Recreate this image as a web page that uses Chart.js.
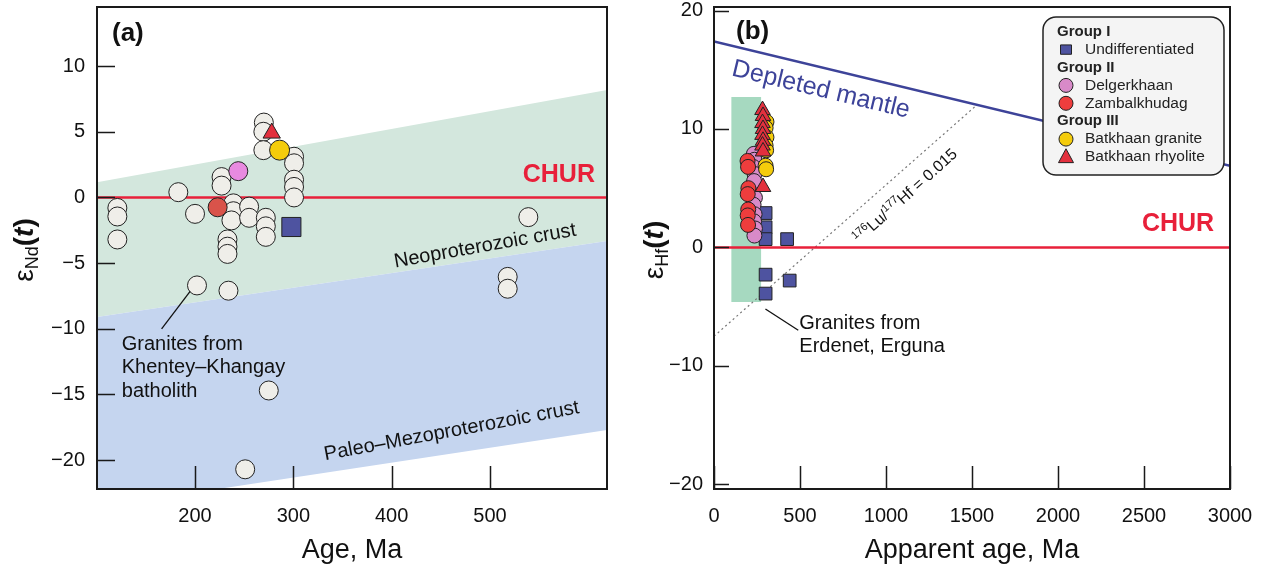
<!DOCTYPE html>
<html>
<head>
<meta charset="utf-8">
<script src="https://cdn.jsdelivr.net/npm/chart.js@4.4.1/dist/chart.umd.min.js"></script>
<style>
  html, body { margin: 0; padding: 0; background: #fff; }
  #wrap { position: relative; width: 1267px; height: 578px; }
  #chartA { position: absolute; left: 0; top: 0; }
  #chartB { position: absolute; left: 630px; top: 0; }
</style>
</head>
<body>
<div id="wrap">
  <canvas id="chartA" width="630" height="578"></canvas>
  <canvas id="chartB" width="637" height="578"></canvas>
</div>
<script>
const FF = "'Liberation Sans', Arial, sans-serif";
Chart.defaults.font.family = FF;
Chart.defaults.color = '#111';

// ---- panel (a): eNd(t) vs age ----
const ageTicksA = [200, 300, 400, 500];
const epsNdTicks = [-20, -15, -10, -5, 0, 5, 10];

// granites from Khentey-Khangay batholith
const ageKK = [270, 269.5, 269.5, 300.7, 300.7, 227, 227, 183, 300.7, 300.7, 300.7,
  121, 121, 121, 200, 239, 239, 237, 255, 255, 272, 272, 272, 233, 233, 233,
  202, 234, 518, 518, 275, 251, 539];
const epsKK = [5.7, 5.0, 3.6, 3.1, 2.6, 1.55, 0.9, 0.4, 1.35, 0.8, 0.0,
  -0.8, -1.45, -3.2, -1.25, -0.45, -1.05, -1.75, -0.7, -1.55, -1.55, -2.2, -3.0, -3.2, -3.75, -4.3,
  -6.7, -7.1, -6.05, -6.95, -14.7, -20.7, -1.5];
const ageDelgerA = [244], epsDelgerA = [2.0];
const ageZambA = [223], epsZambA = [-0.75];
const ageBatGA = [286], epsBatGA = [3.6];
const ageBatRA = [278], epsBatRA = [4.9];
const ageUndiffA = [298], epsUndiffA = [-2.25];

// crust evolution fields (eNd at the two ends of the age range)
const bandAges = [100, 620];
const neoTop = [1.15, 8.2];
const neoBottom = [-9.1, -3.3];
const paleoBottom = [-23.6, -17.7];

// ---- panel (b): eHf(t) vs apparent age ----
const ageTicksB = [0, 500, 1000, 1500, 2000, 2500, 3000];
const epsHfTicks = [-20, -10, 0, 10, 20];

const ageUndiff = [300, 300, 300, 425, 300, 440, 300];
const epsUndiff = [2.9, 1.7, 0.7, 0.7, -2.3, -2.8, -3.9];
const ageDelger = [232, 235, 228, 236, 233, 238, 230, 236, 233, 238, 235];
const epsDelger = [7.9, 7.4, 6.8, 6.2, 5.6, 4.2, 3.6, 2.8, 2.2, 1.6, 1.0];
const ageZamb = [195, 198, 200, 196, 199, 196, 198];
const epsZamb = [7.3, 6.8, 5.0, 4.5, 3.2, 2.7, 1.9];
const ageBatG = [305, 300, 305, 300, 303, 300, 303];
const epsBatG = [10.6, 10.1, 9.3, 8.6, 8.2, 6.9, 6.6];
const ageBatR = [282, 285, 282, 285, 282, 285, 282, 285, 285];
const epsBatR = [11.6, 11.1, 10.5, 10.0, 9.5, 9.0, 8.6, 8.1, 5.1];

const dmAges = [0, 3000], dmEps = [17.4, 6.9];
const luHfAges = [0, 1530], luHfEps = [-7.5, 12.05];
const erdenetAges = [100, 275], erdenetEps = [12.7, -4.6];

const groupNames = ['Group I', 'Group II', 'Group III'];
const seriesNames = ['Undifferentiated', 'Delgerkhaan', 'Zambalkhudag', 'Batkhaan granite', 'Batkhaan rhyolite'];

const pts = (xs, ys) => xs.map((x, i) => ({x: x, y: ys[i]}));
const fmt = v => v < 0 ? '\u2212' + Math.abs(v) : '' + v;

const C = {
  red: '#e8203a', dm: '#3d4399', sq: '#4e53a0', pinkA: '#e88ae0', pinkB: '#d88ac8',
  zambA: '#d9534a', zambB: '#ee3d3d', yellow: '#f4cc0c', tri: '#e3303e', white: '#efeee9'
};

function richText(ctx, parts, x, y, angle, align, color) {
  ctx.save();
  ctx.translate(x, y);
  ctx.rotate(angle * Math.PI / 180);
  ctx.fillStyle = color;
  ctx.textBaseline = 'middle';
  ctx.textAlign = 'left';
  let w = 0;
  parts.forEach(p => { ctx.font = p.font; p.w = ctx.measureText(p.t).width; w += p.w; });
  let cx = align === 'center' ? -w / 2 : 0;
  parts.forEach(p => { ctx.font = p.font; ctx.fillText(p.t, cx, p.dy || 0); cx += p.w; });
  ctx.restore();
}

function inwardFrame(xTicks, yTicks, xLen, yLen) {
  return {
    id: 'inwardFrame',
    afterDatasetsDraw(chart) {
      const {ctx, chartArea: a, scales: {x, y}} = chart;
      ctx.save();
      ctx.strokeStyle = '#1a1a1a';
      ctx.lineWidth = 1.5;
      ctx.beginPath();
      xTicks.forEach(v => {
        const px = Math.round(x.getPixelForValue(v)) + 0.5;
        ctx.moveTo(px, a.bottom); ctx.lineTo(px, a.bottom - xLen);
      });
      yTicks.forEach(v => {
        const py = Math.round(y.getPixelForValue(v)) + 0.5;
        ctx.moveTo(a.left, py); ctx.lineTo(a.left + yLen, py);
      });
      ctx.stroke();
      ctx.lineWidth = 2;
      ctx.strokeRect(a.left, a.top, a.right - a.left, a.bottom - a.top);
      ctx.restore();
    }
  };
}

function scalesFor(o) {
  return {
    x: {
      type: 'linear', min: o.xMin, max: o.xMax,
      afterBuildTicks: s => { s.ticks = o.xTicks.map(v => ({value: v})); },
      afterFit: s => { s.height = 89; s.paddingLeft = 0; s.paddingRight = 0; },
      grid: {display: false, drawTicks: false},
      border: {display: false},
      ticks: {font: {size: 20}, color: '#111', padding: 15, maxRotation: 0, autoSkip: false, callback: fmt},
      title: {display: true, text: o.xTitle, font: {size: 27}, color: '#111', padding: {top: 0, bottom: 11}}
    },
    y: {
      type: 'linear', min: o.yMin, max: o.yMax,
      afterBuildTicks: s => { s.ticks = o.yTicks.map(v => ({value: v})); },
      afterFit: s => { s.width = o.yWidth; s.paddingTop = 0; s.paddingBottom = 0; },
      grid: {display: false, drawTicks: false},
      border: {display: false},
      ticks: {font: {size: 20}, color: '#111', padding: o.yPad, autoSkip: false, callback: fmt}
    }
  };
}

function baseOptions(o) {
  return {
    responsive: false,
    devicePixelRatio: 1,
    animation: false,
    events: [],
    layout: {autoPadding: false, padding: {left: 0, top: 7, right: o.right, bottom: 0}},
    plugins: {legend: {display: false}, tooltip: {enabled: false}},
    scales: scalesFor(o)
  };
}

function lineDs(xs, ys, extra) {
  return Object.assign({type: 'line', data: pts(xs, ys), pointRadius: 0, borderWidth: 0, fill: false, tension: 0}, extra);
}
function markDs(xs, ys, extra) {
  return Object.assign({data: pts(xs, ys), borderColor: '#222', borderWidth: 1}, extra);
}

// ---------- chart (a) ----------
const annotA = {
  id: 'annotA',
  afterDatasetsDraw(chart) {
    const {ctx, chartArea: a, scales: {x, y}} = chart;
    const P = (ax, ey) => [x.getPixelForValue(ax), y.getPixelForValue(ey)];
    richText(ctx, [{t: '(a)', font: `bold 26px ${FF}`}], a.left + 15, a.top + 27, 0, 'left', '#111');
    let p = P(570, 1.73);
    richText(ctx, [{t: 'CHUR', font: `bold 25px ${FF}`}], p[0], p[1], 0, 'center', C.red);
    p = P(495, -3.7);
    richText(ctx, [{t: 'Neoproterozoic crust', font: `20px ${FF}`}], p[0], p[1], -10, 'center', '#111');
    p = P(461, -17.8);
    richText(ctx, [{t: 'Paleo\u2013Mezoproterozoic crust', font: `20px ${FF}`}], p[0], p[1], -10.5, 'center', '#111');
    ['Granites from', 'Khentey\u2013Khangay', 'batholith'].forEach((t, i) => {
      const q = P(125.5, -11.2 - i * 1.78);
      richText(ctx, [{t: t, font: `20px ${FF}`}], q[0], q[1], 0, 'left', '#111');
    });
    const l0 = P(166, -10.0), l1 = P(195, -7.15);
    ctx.save();
    ctx.strokeStyle = '#111'; ctx.lineWidth = 1.3;
    ctx.beginPath(); ctx.moveTo(l0[0], l0[1]); ctx.lineTo(l1[0], l1[1]); ctx.stroke();
    ctx.restore();
    richText(ctx, [
      {t: '\u03b5', font: `28px ${FF}`},
      {t: 'Nd', font: `18px ${FF}`, dy: 8},
      {t: '(', font: `bold 28px ${FF}`},
      {t: 't', font: `bold italic 28px ${FF}`},
      {t: ')', font: `bold 28px ${FF}`}
    ], 25, 250, -90, 'center', '#111');
  }
};

new Chart(document.getElementById('chartA'), {
  type: 'scatter',
  data: {
    datasets: [
      lineDs(bandAges, neoTop, {fill: '+1', backgroundColor: '#d3e7dd', order: 10}),
      lineDs(bandAges, neoBottom, {fill: '+1', backgroundColor: '#c5d5ef', order: 9}),
      lineDs(bandAges, paleoBottom, {order: 8}),
      lineDs(bandAges, [0, 0], {borderColor: C.red, borderWidth: 2.5, order: 7}),
      markDs(ageKK, epsKK, {backgroundColor: C.white, pointRadius: 9.5, order: 4}),
      markDs(ageDelgerA, epsDelgerA, {backgroundColor: C.pinkA, pointRadius: 9.5, order: 2}),
      markDs(ageZambA, epsZambA, {backgroundColor: C.zambA, pointRadius: 9.5, order: 2}),
      markDs(ageUndiffA, epsUndiffA, {backgroundColor: C.sq, pointStyle: 'rect', pointRadius: 13.5, order: 2}),
      markDs(ageBatGA, epsBatGA, {backgroundColor: C.yellow, pointRadius: 10, order: 1}),
      markDs(ageBatRA, epsBatRA, {backgroundColor: C.tri, pointStyle: 'triangle', pointRadius: 10, order: 0})
    ]
  },
  options: baseOptions({
    right: 23, xMin: 100.3, xMax: 619, yMin: -22.2, yMax: 14.5,
    xTicks: ageTicksA, yTicks: epsNdTicks, yWidth: 97, yPad: 12, xTitle: 'Age, Ma'
  }),
  plugins: [inwardFrame(ageTicksA, epsNdTicks, 23, 18), annotA]
});

// ---------- chart (b) ----------
function drawMarker(ctx, style, x, y, r, fill) {
  ctx.save();
  ctx.fillStyle = fill; ctx.strokeStyle = '#222'; ctx.lineWidth = 1;
  ctx.beginPath();
  if (style === 'rect') {
    ctx.rect(x - r, y - r * 0.85, 2 * r, 1.7 * r);
  } else if (style === 'triangle') {
    ctx.moveTo(x, y - r * 1.1);
    ctx.lineTo(x + r, y + r * 0.75);
    ctx.lineTo(x - r, y + r * 0.75);
    ctx.closePath();
  } else {
    ctx.arc(x, y, r, 0, Math.PI * 2);
  }
  ctx.fill(); ctx.stroke();
  ctx.restore();
}

const legendB = {
  id: 'legendB',
  afterDatasetsDraw(chart) {
    const ctx = chart.ctx;
    ctx.save();
    ctx.beginPath();
    ctx.roundRect(413, 17, 181, 158, 13);
    ctx.fillStyle = '#f4f4f4'; ctx.fill();
    ctx.strokeStyle = '#222'; ctx.lineWidth = 1.5; ctx.stroke();
    ctx.restore();
    const rows = [
      {g: groupNames[0]},
      {s: seriesNames[0], st: 'rect', c: C.sq, r: 5.5},
      {g: groupNames[1]},
      {s: seriesNames[1], st: 'circle', c: C.pinkB, r: 7},
      {s: seriesNames[2], st: 'circle', c: C.zambB, r: 7},
      {g: groupNames[2]},
      {s: seriesNames[3], st: 'circle', c: C.yellow, r: 7},
      {s: seriesNames[4], st: 'triangle', c: C.tri, r: 7.5}
    ];
    rows.forEach((row, i) => {
      const yy = 31.7 + i * 17.9;
      if (row.g) {
        richText(ctx, [{t: row.g, font: `bold 15px ${FF}`}], 427, yy, 0, 'left', '#222');
      } else {
        drawMarker(ctx, row.st, 436, yy, row.r, row.c);
        richText(ctx, [{t: row.s, font: `15.5px ${FF}`}], 455, yy, 0, 'left', '#222');
      }
    });
  }
};

const annotB = {
  id: 'annotB',
  afterDatasetsDraw(chart) {
    const {ctx, chartArea: a, scales: {x, y}} = chart;
    const P = (ax, ey) => [x.getPixelForValue(ax), y.getPixelForValue(ey)];
    richText(ctx, [{t: '(b)', font: `bold 26px ${FF}`}], a.left + 22, a.top + 25, 0, 'left', '#111');
    let p = P(2698, 2.0);
    richText(ctx, [{t: 'CHUR', font: `bold 25px ${FF}`}], p[0], p[1], 0, 'center', C.red);
    p = P(622, 13.3);
    richText(ctx, [{t: 'Depleted mantle', font: `25px ${FF}`}], p[0], p[1], 13.5, 'center', C.dm);
    p = P(1115, 4.3);
    richText(ctx, [
      {t: '176', font: `11px ${FF}`, dy: -5},
      {t: 'Lu/', font: `16px ${FF}`},
      {t: '177', font: `11px ${FF}`, dy: -5},
      {t: 'Hf = 0.015', font: `16px ${FF}`}
    ], p[0], p[1], -42, 'center', '#111');
    ['Granites from', 'Erdenet, Erguna'].forEach((t, i) => {
      const q = P(496, -6.4 - i * 2.0);
      richText(ctx, [{t: t, font: `20px ${FF}`}], q[0], q[1], 0, 'left', '#111');
    });
    const l0 = P(299, -5.2), l1 = P(490, -7.0);
    ctx.save();
    ctx.strokeStyle = '#111'; ctx.lineWidth = 1.3;
    ctx.beginPath(); ctx.moveTo(l0[0], l0[1]); ctx.lineTo(l1[0], l1[1]); ctx.stroke();
    ctx.restore();
    richText(ctx, [
      {t: '\u03b5', font: `28px ${FF}`},
      {t: 'Hf', font: `18px ${FF}`, dy: 8},
      {t: '(', font: `bold 28px ${FF}`},
      {t: 't', font: `bold italic 28px ${FF}`},
      {t: ')', font: `bold 28px ${FF}`}
    ], 25, 250, -90, 'center', '#111');
  }
};

new Chart(document.getElementById('chartB'), {
  type: 'scatter',
  data: {
    datasets: [
      lineDs(erdenetAges, [erdenetEps[0], erdenetEps[0]], {fill: '+1', backgroundColor: '#a6d9c0', order: 10}),
      lineDs(erdenetAges, [erdenetEps[1], erdenetEps[1]], {order: 9}),
      lineDs(luHfAges, luHfEps, {borderColor: '#777', borderWidth: 1.2, borderDash: [2, 3], order: 8}),
      lineDs(dmAges, dmEps, {borderColor: C.dm, borderWidth: 2.5, order: 7}),
      lineDs([0, 3000], [0, 0], {borderColor: C.red, borderWidth: 2.5, order: 6}),
      markDs(ageUndiff, epsUndiff, {backgroundColor: C.sq, pointStyle: 'rect', pointRadius: 9, order: 4}),
      markDs(ageDelger, epsDelger, {backgroundColor: C.pinkB, pointRadius: 7.5, order: 3}),
      markDs(ageBatG, epsBatG, {backgroundColor: C.yellow, pointRadius: 7.5, order: 2}),
      markDs(ageZamb, epsZamb, {backgroundColor: C.zambB, pointRadius: 7.5, order: 1}),
      markDs(ageBatR, epsBatR, {backgroundColor: C.tri, pointStyle: 'triangle', pointRadius: 9, order: 0})
    ]
  },
  options: baseOptions({
    right: 37, xMin: 0, xMax: 3000, yMin: -20.4, yMax: 20.3,
    xTicks: ageTicksB, yTicks: epsHfTicks, yWidth: 84, yPad: 11, xTitle: 'Apparent age, Ma'
  }),
  plugins: [inwardFrame(ageTicksB, epsHfTicks, 23, 15), annotB, legendB]
});
</script>
</body>
</html>
